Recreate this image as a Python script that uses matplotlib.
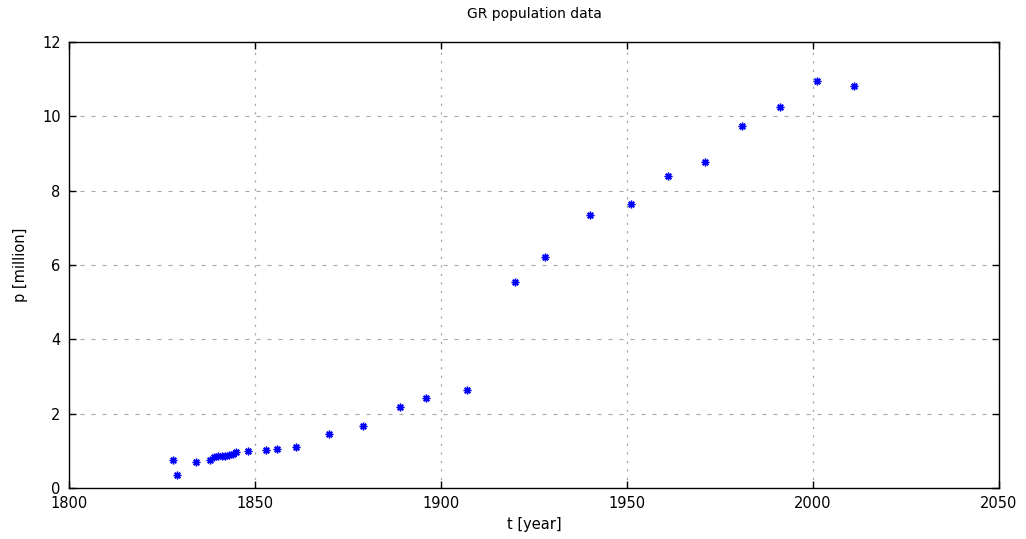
import matplotlib
matplotlib.use("Agg")
import matplotlib.pyplot as plt

# Greek census population (millions)
years = [1828, 1829, 1834, 1838, 1839, 1840, 1841, 1842, 1843, 1844, 1845, 1848,
         1853, 1856, 1861, 1870, 1879, 1889, 1896, 1907, 1920, 1928, 1940, 1951,
         1961, 1971, 1981, 1991, 2001, 2011]
population = [0.753, 0.35, 0.70, 0.752, 0.823, 0.850, 0.861, 0.853, 0.880, 0.915,
              0.960, 0.987, 1.035, 1.062, 1.097, 1.458, 1.679, 2.187, 2.434, 2.632,
              5.532, 6.204, 7.345, 7.632, 8.388, 8.768, 9.740, 10.259, 10.964, 10.816]

x_ticks = [1800, 1850, 1900, 1950, 2000, 2050]
y_ticks = [0, 2, 4, 6, 8, 10, 12]

plt.rcParams['font.family'] = ['DejaVu Sans']
fig = plt.figure(figsize=(10.26, 5.39), dpi=100)
ax = fig.add_axes([0.0673, 0.0946, 0.9064, 0.8274])

ax.plot(years, population, linestyle='none', marker=(8, 2, 0), markersize=5.5,
        markeredgewidth=1.0, color='#0000ff', markeredgecolor='#0000ff', zorder=3)

ax.set_xlim(1800, 2050)
ax.set_ylim(0, 12)
ax.set_xticks(x_ticks)
ax.set_yticks(y_ticks)
ax.yaxis.grid(True, color='#a8a8a8', linestyle=(0, (3.6, 6.3)), linewidth=0.8)
ax.xaxis.grid(True, color='#a8a8a8', linestyle=(0, (1.8, 5.0)), linewidth=0.9)
ax.tick_params(direction='in', length=5, width=1, top=True, right=True,
               labelsize=10.5, pad=6)
for s in ax.spines.values():
    s.set_linewidth(1.0)
    s.set_color('black')

ax.set_title("GR population data", fontsize=10, pad=17)
ax.set_xlabel("t [year]", fontsize=10.5)
ax.set_ylabel("p [million]", fontsize=10.5, labelpad=10)

fig.savefig("out.png", dpi=100)
